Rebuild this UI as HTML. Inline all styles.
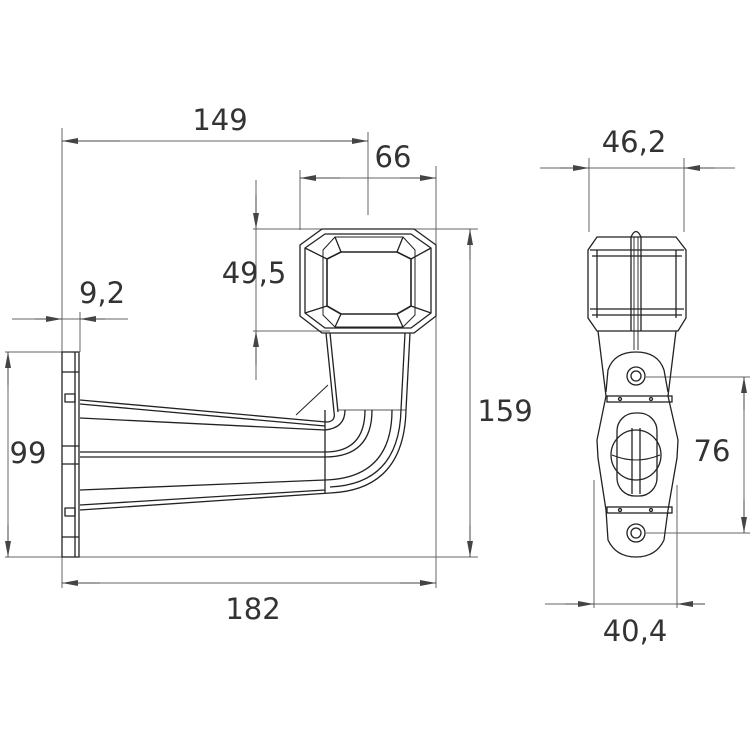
<!DOCTYPE html>
<html><head><style>
html,body{margin:0;padding:0;background:#fff;}
svg{display:block}
text{font-family:"DejaVu Sans","Liberation Sans",sans-serif;fill:#333;font-size:29px;}
</style></head><body>
<svg width="750" height="750" viewBox="0 0 750 750" xmlns="http://www.w3.org/2000/svg">
<defs>
<marker id="a" viewBox="0 0 16 8" refX="16" refY="4" markerWidth="16" markerHeight="8" orient="auto" markerUnits="userSpaceOnUse"><path d="M0,1 L16,4 L0,7 Z" fill="#444"/></marker>
</defs>
<g stroke="#666" stroke-width="1" fill="none">
<line x1="62" y1="128" x2="62" y2="588"/>
<line x1="436" y1="166" x2="436" y2="588"/>
<line x1="300" y1="170" x2="300" y2="230"/>
<line x1="368" y1="132" x2="368" y2="215"/>
<line x1="253" y1="229" x2="478" y2="229"/>
<line x1="253" y1="331" x2="330" y2="331"/>
<line x1="5" y1="352" x2="62" y2="352"/>
<line x1="5" y1="557" x2="478" y2="557"/>
<line x1="80" y1="312" x2="80" y2="352"/>
<line x1="62" y1="141" x2="368" y2="141"/>
<line x1="300" y1="178" x2="436" y2="178"/>
<line x1="256" y1="180" x2="256" y2="380"/>
<line x1="470" y1="229" x2="470" y2="557"/>
<line x1="8" y1="352" x2="8" y2="557"/>
<line x1="12" y1="319" x2="128" y2="319"/>
<line x1="62" y1="583" x2="436" y2="583"/>
</g>
<g stroke="#444" stroke-width="1" fill="none">
<line x1="120" y1="141" x2="62" y2="141" marker-end="url(#a)"/>
<line x1="320" y1="141" x2="368" y2="141" marker-end="url(#a)"/>
<line x1="340" y1="178" x2="300" y2="178" marker-end="url(#a)"/>
<line x1="400" y1="178" x2="436" y2="178" marker-end="url(#a)"/>
<line x1="256" y1="195" x2="256" y2="229" marker-end="url(#a)"/>
<line x1="256" y1="365" x2="256" y2="331" marker-end="url(#a)"/>
<line x1="470" y1="260" x2="470" y2="229" marker-end="url(#a)"/>
<line x1="470" y1="525" x2="470" y2="557" marker-end="url(#a)"/>
<line x1="8" y1="385" x2="8" y2="352" marker-end="url(#a)"/>
<line x1="8" y1="525" x2="8" y2="557" marker-end="url(#a)"/>
<line x1="35" y1="319" x2="62" y2="319" marker-end="url(#a)"/>
<line x1="105" y1="319" x2="80" y2="319" marker-end="url(#a)"/>
<line x1="100" y1="583" x2="62" y2="583" marker-end="url(#a)"/>
<line x1="400" y1="583" x2="436" y2="583" marker-end="url(#a)"/>
</g>
<g stroke="#222" stroke-width="1.3" fill="none" stroke-linejoin="round">
<rect x="62" y="352" width="17" height="205"/>
<line x1="75" y1="352" x2="75" y2="557"/>
<rect x="65" y="394" width="10" height="8"/>
<rect x="65" y="508" width="10" height="8"/>
<line x1="62" y1="372" x2="79" y2="372"/>
<line x1="62" y1="446" x2="79" y2="446"/>
<line x1="62" y1="464" x2="79" y2="464"/>
<line x1="62" y1="537" x2="79" y2="537"/>
<path d="M322,229 L414,229 L436,245 L436,316 L414,333 L322,333 L300,316 L300,245 Z"/>
<path d="M325,234 L411,234 L431,248 L431,313 L411,328 L325,328 L305,313 L305,248 Z"/>
<path d="M335,237 L403,237 L415,250 L415,315 L403,327 L335,327 L323,315 L323,250 Z" stroke-width="1"/>
<path d="M341,252 L397,252 L411,259 L411,306 L397,314 L341,314 L327,306 L327,259 Z" stroke-width="1.6"/>
<line x1="305" y1="248" x2="327" y2="259"/><line x1="431" y1="248" x2="411" y2="259"/>
<line x1="305" y1="313" x2="327" y2="306"/><line x1="431" y1="313" x2="411" y2="306"/>
<line x1="335" y1="237" x2="341" y2="252"/><line x1="403" y1="237" x2="397" y2="252"/>
<line x1="335" y1="327" x2="341" y2="314"/><line x1="403" y1="327" x2="397" y2="314"/>
<path d="M326,333 L334,412 Q336,422 326,422 L80,400"/>
<path d="M330,333 L338,412"/>
<path d="M410,333 L406,410 Q404,490 330,493 L80,510"/>
<path d="M405,333 L401,410 Q399,484 330,487"/>
<line x1="80" y1="404" x2="325" y2="426"/>
<line x1="80" y1="418" x2="325" y2="430"/>
<path d="M325,430 Q345,428 345,410"/>
<line x1="325" y1="410" x2="325" y2="493"/>
<line x1="338" y1="410" x2="406" y2="410" stroke-width="0.8"/>
<line x1="80" y1="452" x2="325" y2="452"/>
<line x1="80" y1="457" x2="325" y2="457"/>
<path d="M325,452 Q365,452 365,410"/>
<path d="M325,457 Q372,457 372,410"/>
<line x1="80" y1="490" x2="325" y2="480"/>
<line x1="80" y1="505" x2="325" y2="490"/>
<path d="M325,480 Q392,478 392,410"/>
<line x1="296" y1="415" x2="328" y2="385" stroke-width="1"/>
</g>
<g stroke="#666" stroke-width="1" fill="none">
<line x1="540" y1="168" x2="735" y2="168"/>
<line x1="589" y1="158" x2="589" y2="232"/>
<line x1="684" y1="158" x2="684" y2="232"/>
<line x1="744" y1="377" x2="744" y2="533"/>
<line x1="646" y1="377" x2="750" y2="377"/>
<line x1="646" y1="533" x2="750" y2="533"/>
<line x1="545" y1="604" x2="700" y2="604"/>
<line x1="594" y1="480" x2="594" y2="608"/>
<line x1="677" y1="485" x2="677" y2="608"/>
</g>
<g stroke="#444" stroke-width="1" fill="none">
<line x1="560" y1="168" x2="589" y2="168" marker-end="url(#a)"/>
<line x1="715" y1="168" x2="684" y2="168" marker-end="url(#a)"/>
<line x1="744" y1="410" x2="744" y2="377" marker-end="url(#a)"/>
<line x1="744" y1="500" x2="744" y2="533" marker-end="url(#a)"/>
<line x1="565" y1="604" x2="594" y2="604" marker-end="url(#a)"/>
<line x1="705" y1="604" x2="677" y2="604" marker-end="url(#a)"/>
</g>
<g stroke="#222" stroke-width="1.3" fill="none">
<path d="M597,237 L676,237 L686,250 L686,318 L678,331 L597,331 L588,318 L588,250 Z"/>
<line x1="590" y1="250" x2="684" y2="250"/>
<line x1="592" y1="256" x2="682" y2="256"/>
<line x1="590" y1="309" x2="684" y2="309"/>
<line x1="592" y1="315" x2="682" y2="315"/>
<line x1="597" y1="250" x2="597" y2="318"/>
<line x1="676" y1="250" x2="676" y2="318"/>
<path d="M631,331 L631,237 Q636,226 641,237 L641,331"/>
<line x1="634" y1="237" x2="634" y2="350" stroke-width="0.9"/>
<line x1="638" y1="237" x2="638" y2="350" stroke-width="0.9"/>
<path d="M598,331 L606,396 M676,331 L668,396"/>
<path d="M606,392 L608,370 Q614,352 636,352 Q658,352 664,370 L668,392"/>
<path d="M606,396 L597,440 L598,458 L606,510 M668,396 L678,440 L677,458 L668,510"/>
<path d="M606,510 L608,540 Q616,557 636,557 Q656,557 664,540 L668,510"/>
<circle cx="636" cy="376" r="9"/><circle cx="636" cy="376" r="5"/>
<circle cx="636" cy="533" r="9"/><circle cx="636" cy="533" r="5"/>
<rect x="607" y="396" width="65" height="6"/>
<rect x="607" y="507" width="65" height="6"/>
<circle cx="620" cy="399" r="1.5"/><circle cx="651" cy="399" r="1.5"/>
<circle cx="620" cy="510" r="1.5"/><circle cx="651" cy="510" r="1.5"/>
<rect x="617" y="413" width="40" height="83" rx="18"/>
<circle cx="636" cy="455" r="25"/>
<line x1="632" y1="428" x2="632" y2="494"/><line x1="640" y1="428" x2="640" y2="494"/>
<path d="M612,455 Q636,465 660,455" stroke-width="1"/>
</g>
<text x="220" y="130" text-anchor="middle">149</text>
<text x="393" y="167" text-anchor="middle">66</text>
<text x="254" y="283" text-anchor="middle">49,5</text>
<text x="102" y="303" text-anchor="middle">9,2</text>
<text x="28" y="463" text-anchor="middle">99</text>
<text x="253" y="619" text-anchor="middle">182</text>
<text x="505" y="421" text-anchor="middle">159</text>
<text x="634" y="152" text-anchor="middle">46,2</text>
<text x="712" y="461" text-anchor="middle">76</text>
<text x="635" y="641" text-anchor="middle">40,4</text>
</svg>
</body></html>
